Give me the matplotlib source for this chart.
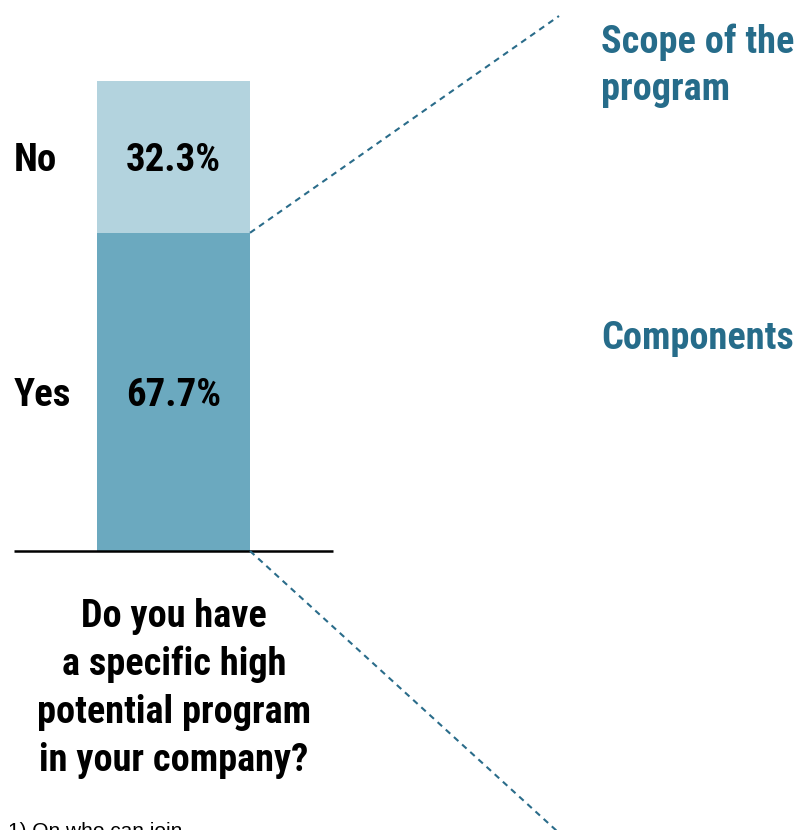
import matplotlib
matplotlib.use("Agg")
import matplotlib.pyplot as plt
from matplotlib import font_manager
from matplotlib.lines import Line2D

# Survey answers
answers = ["Yes", "No"]
shares = [67.7, 32.3]
bar_colors = ["#6BA9BF", "#B3D3DE"]
question_lines = ["Do you have", "a specific high", "potential program", "in your company?"]
side_topics = [["Scope of the", "program"], ["Components"]]
footnote = "1) On who can join"

installed = {f.name for f in font_manager.fontManager.ttflist}
candidates = ["Liberation Sans Narrow", "Roboto Condensed", "Open Sans Condensed", "Roboto"]
bold_font = next((c for c in candidates if c in installed), "Liberation Sans")
condensed = bold_font != "Roboto"

W, H = 803, 830
fig = plt.figure(figsize=(W / 100, H / 100), dpi=100)

def px(y_top):
    """Figure fraction for a y position measured in pixels from the top."""
    return 1 - y_top / H

# Axes spanning the baseline, bar drawn in percent units
ax = fig.add_axes([14 / W, (H - 551) / H, 319 / W, 470 / H])
ax.set_xlim(0, 319)
ax.set_ylim(0, 100)
ax.axis("off")

big = 28 if condensed else 26
bar_x, bar_w = 159.5, 153
nudge = 0.8  # labels sit slightly below the segment centre
bottom = 0
for ans, val, col in zip(answers, shares, bar_colors):
    ax.bar(bar_x, val, width=bar_w, bottom=bottom, color=col, linewidth=0)
    mid = bottom + val / 2 - nudge
    ax.text(bar_x, mid, f"{val:.1f}%", ha="center", va="center",
            fontsize=big, fontweight="bold", family=bold_font, color="black")
    ax.text(0, mid, ans, ha="left", va="center",
            fontsize=big, fontweight="bold", family=bold_font, color="black")
    bottom += val
ax.plot([0, 319], [0, 0], color="black", lw=1.8, solid_capstyle="butt", clip_on=False)

# Dashed lines from the bar's right corners out to the side topics
fig.canvas.draw()
right = bar_x + bar_w / 2
line_col = "#2A6C8A"
for y0, end in [(shares[0], (559, H - 16)), (0, (558, -2))]:
    sx, sy = ax.transData.transform((right, y0))
    fig.add_artist(Line2D([sx, end[0]], [sy, end[1]], transform=None,
                          color=line_col, lw=1.5, linestyle=(0, (2.9, 2.4))))

# Question under the bar, one line at a time
qsize = 27.5 if condensed else 23.5
for i, line in enumerate(question_lines):
    fig.text(174 / W, px(627 + 48 * i), line, ha="center", va="baseline",
             fontsize=qsize, fontweight="bold", family=bold_font, color="black")

teal = "#266C8A"
ssize = 27.5 if condensed else 23
for line, base in zip(side_topics[0], [53, 100]):
    fig.text(601 / W, px(base), line, ha="left", va="baseline",
             fontsize=ssize, fontweight="bold", family=bold_font, color=teal)
fig.text(601 / W, px(349), side_topics[1][0], ha="left", va="baseline",
         fontsize=ssize, fontweight="bold", family=bold_font, color=teal)

fig.text(8 / W, px(837), footnote, ha="left", va="baseline",
         fontsize=15, family="Liberation Sans", color="black")

fig.savefig("out.png", dpi=100)
